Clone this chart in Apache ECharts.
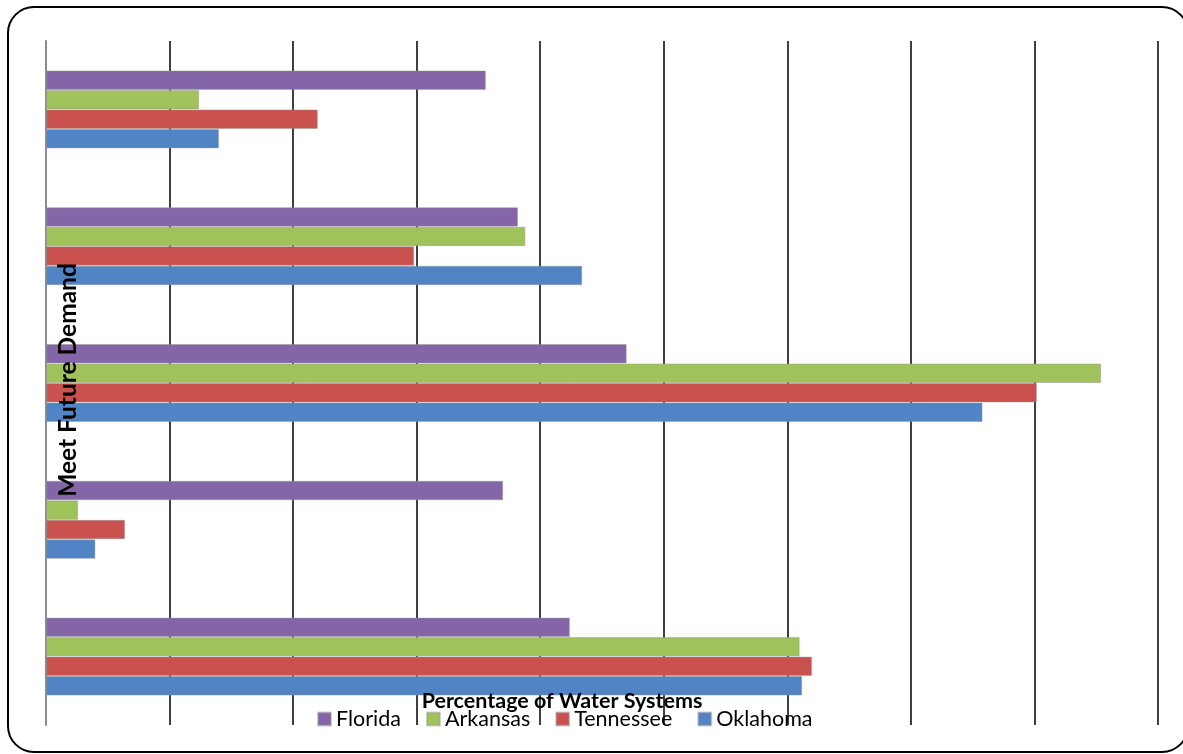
<!DOCTYPE html>
<html>
<head>
<meta charset="utf-8">
<script src="https://cdn.jsdelivr.net/npm/echarts@6/dist/echarts.min.js"></script>
<style>
  html, body { margin: 0; padding: 0; background: #fff; }
  #chart { width: 1183px; height: 754px; }
</style>
</head>
<body>
<div id="chart"></div>
<script>
// Category groups, listed top to bottom
const categories = ['A', 'B', 'C', 'D', 'E'];

// Percentage of water systems per state
const florida   = [17.8, 19.1, 23.5, 18.5, 21.2];
const arkansas  = [6.2, 19.4, 42.7, 1.3, 30.5];
const tennessee = [11.0, 14.9, 40.1, 3.2, 31.0];
const oklahoma  = [7.0, 21.7, 37.9, 2.0, 30.6];

const xTicks = { min: 0, max: 45, interval: 5 };

const stateNames = ['Florida', 'Arkansas', 'Tennessee', 'Oklahoma'];
const stateColors = ['#8466A8', '#9FC25A', '#C9524F', '#5084C4'];
const stateValues = [florida, arkansas, tennessee, oklahoma];

const FONT = 'Lato, "Liberation Sans", sans-serif';

const chart = echarts.init(document.getElementById('chart'));

chart.setOption({
  backgroundColor: '#fff',
  animation: false,
  grid: { left: 46, right: 25, top: 41, bottom: 29 },
  xAxis: {
    type: 'value',
    min: xTicks.min,
    max: xTicks.max,
    interval: xTicks.interval,
    axisLabel: { show: false },
    axisTick: { show: false },
    axisLine: { show: false },
    splitLine: { show: true, lineStyle: { color: '#3f3f3f', width: 2 } }
  },
  yAxis: {
    type: 'category',
    data: categories,
    inverse: true,
    axisLabel: { show: false },
    axisTick: { show: false },
    axisLine: { show: true, lineStyle: { color: '#8c8c8c', width: 2 } },
    splitLine: { show: false }
  },
  legend: {
    data: stateNames,
    left: 312,
    top: 703,
    icon: 'rect',
    itemWidth: 13,
    itemHeight: 13,
    itemGap: 25,
    textStyle: { fontFamily: FONT, fontSize: 21.5, color: '#000' }
  },
  series: stateNames.map((name, i) => ({
    name: name,
    type: 'bar',
    data: stateValues[i],
    barGap: '0%',
    barCategoryGap: '43%',
    itemStyle: {
      color: stateColors[i],
      borderColor: 'rgba(150,150,150,0.45)',
      borderWidth: 1
    }
  })),
  graphic: [
    {
      type: 'rect',
      shape: { x: 8, y: 7, width: 1180, height: 745, r: 26 },
      style: { fill: 'none', stroke: '#000', lineWidth: 2 },
      z: 100
    },
    {
      type: 'text',
      x: 68,
      y: 380,
      rotation: Math.PI / 2,
      style: {
        text: 'Meet Future Demand',
        fontFamily: FONT,
        fontWeight: 'bold',
        fontSize: 24.5,
        fill: '#000',
        align: 'center',
        verticalAlign: 'middle'
      },
      z: 100
    },
    {
      type: 'text',
      x: 562,
      y: 701,
      style: {
        text: 'Percentage of Water Systems',
        fontFamily: FONT,
        fontWeight: 'bold',
        fontSize: 21.5,
        fill: '#000',
        align: 'center',
        verticalAlign: 'middle'
      },
      z: 100
    }
  ]
});
</script>
</body>
</html>
